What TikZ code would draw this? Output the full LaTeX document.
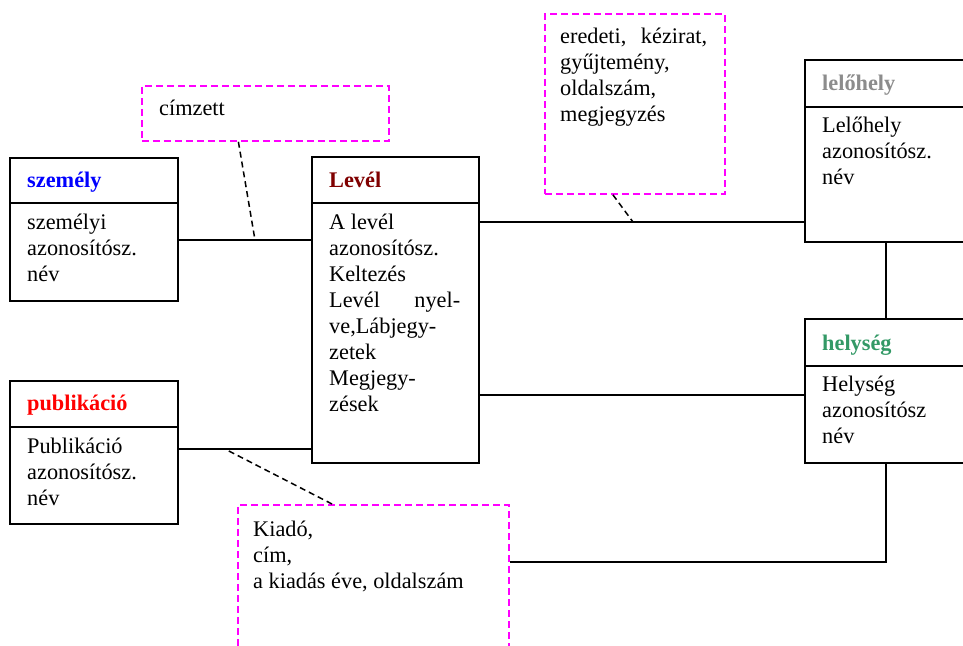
\documentclass[tikz,border=0pt]{standalone}
\usepackage{fontspec}
\setmainfont{Liberation Serif}
\definecolor{tblue}{RGB}{0,0,255}
\definecolor{tdred}{RGB}{128,0,0}
\definecolor{tgray}{RGB}{140,140,140}
\definecolor{tgreen}{RGB}{51,153,102}
\definecolor{tred}{RGB}{255,0,0}
\definecolor{tpink}{RGB}{255,0,255}
\begin{document}
\begin{tikzpicture}[x=1pt,y=-1pt,
  ent/.style={draw, line width=2pt, rectangle, anchor=north west, inner sep=0pt},
  note/.style={draw=tpink, line width=1.8pt, dash pattern=on 7pt off 4pt, rectangle, anchor=north west, inner sep=0pt},
  ttl/.style={font=\fontsize{22.3}{26}\selectfont\bfseries, anchor=base west, inner sep=0pt},
  lbl/.style={font=\fontsize{22.3}{26}\selectfont, anchor=base west, inner sep=0pt},
  txt/.style={font=\fontsize{22.3}{26}\selectfont, align=left, anchor=north west, inner sep=0pt},
  link/.style={line width=2pt},
  hint/.style={line width=1.5pt, dash pattern=on 6pt off 4pt}]
\useasboundingbox[fill=white] (0,0) rectangle (963,645);

% entity boxes
\node[ent, minimum width=168pt, minimum height=143pt] (szemely) at (9,157) {};
\node[ent, minimum width=168pt, minimum height=143pt] (publ) at (9,380) {};
\node[ent, minimum width=167pt, minimum height=306pt] (level) at (311,156) {};
\node[ent, minimum width=171pt, minimum height=182pt] (lelo) at (804,59) {};
\node[ent, minimum width=171pt, minimum height=144pt] (helyseg) at (804,318) {};

% dividers
\draw[link] ([yshift=-46pt]szemely.north west) -- ([yshift=-46pt]szemely.north east);
\draw[link] ([yshift=-47pt]publ.north west) -- ([yshift=-47pt]publ.north east);
\draw[link] ([yshift=-47pt]level.north west) -- ([yshift=-47pt]level.north east);
\draw[link] ([yshift=-48pt]lelo.north west) -- ([yshift=-48pt]lelo.north east);
\draw[link] ([yshift=-48pt]helyseg.north west) -- ([yshift=-48pt]helyseg.north east);

% note boxes
\node[note, minimum width=247pt, minimum height=55pt] (cimzett) at (141,85) {};
\node[note, minimum width=180pt, minimum height=180pt] (eredeti) at (544,13) {};
\node[note, minimum width=271pt, minimum height=160pt] (kiado) at (237,504) {};

% titles
\node[ttl, text=tblue] (szemelyT) at (27,187) {személy};
\node[ttl, text=tred] (publT) at (27,410) {publikáció};
\node[ttl, text=tdred] (levelT) at (329,187) {Levél};
\node[ttl, text=tgray] (leloT) at (822,90) {lelőhely};
\node[ttl, text=tgreen] (helysegT) at (822,350) {helység};

% bodies
\node[txt] (szemelyB) at (27,210.8) {\strut személyi\\azonosítósz.\\név};
\node[txt] (publB) at (27,434.8) {\strut Publikáció\\azonosítósz.\\név};
\node[txt] (levelB) at (329,210.8) {\strut A levél\\azonosítósz.\\Keltezés\\\makebox[131pt][s]{Levél nyel-}\\ve,Lábjegy-\\zetek\\Megjegy-\\zések};
\node[txt] (leloB) at (822,113.8) {\strut Lelőhely\\azonosítósz.\\név};
\node[txt] (helysegB) at (822,372.8) {\strut Helység\\azonosítósz\\név};

% note texts
\node[lbl] (cimzettT) at (159,115) {címzett};
\node[txt] (eredetiT) at (560,24.8) {\strut\makebox[147pt][s]{eredeti, kézirat,}\\gyűjtemény,\\oldalszám,\\megjegyzés};
\node[txt] (kiadoT) at (253,517.8) {\strut Kiadó,\\cím,\\a kiadás éve, oldalszám};

% connector levels
\coordinate (ya) at (0,240);
\coordinate (yb) at (0,449);
\coordinate (yc) at (0,222);
\coordinate (yd) at (0,395);
\coordinate (ye) at (0,562);
\coordinate (xv) at (886,0);

\draw[link] (szemely.east |- ya) -- (level.west |- ya);
\draw[link] (publ.east |- yb) -- (level.west |- yb);
\draw[link] (level.east |- yc) -- (lelo.west |- yc);
\draw[link] (level.east |- yd) -- (helyseg.west |- yd);
\draw[link] (lelo.south -| xv) -- (helyseg.north -| xv);
\draw[link] (helyseg.south -| xv) |- (kiado.east |- ye);

% dashed attachments
\coordinate (ha) at (255,240);
\coordinate (hb) at (633,222);
\coordinate (hc) at (225,449);
\draw[hint] ([xshift=-27pt]cimzett.south) -- (ha);
\draw[hint] ([xshift=-22pt]eredeti.south) -- (hb);
\draw[hint] ([xshift=95pt]kiado.north west) -- (hc);
\end{tikzpicture}
\end{document}
